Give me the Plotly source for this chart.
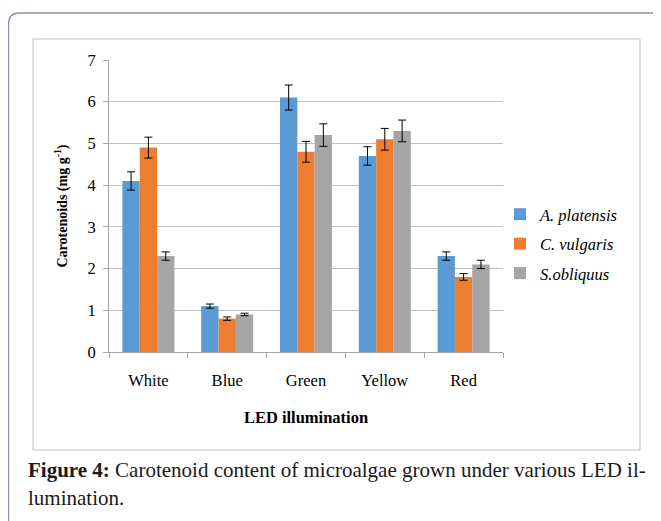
import plotly.graph_objects as go

categories = ["White", "Blue", "Green", "Yellow", "Red"]
series_names = ["<i>A. platensis</i>", "<i>C. vulgaris</i>", "<i>S.obliquus</i>"]
a_platensis = [4.1, 1.1, 6.1, 4.7, 2.3]
a_platensis_err = [0.22, 0.05, 0.3, 0.22, 0.1]
c_vulgaris = [4.9, 0.8, 4.8, 5.1, 1.8]
c_vulgaris_err = [0.25, 0.04, 0.25, 0.26, 0.08]
s_obliquus = [2.3, 0.9, 5.2, 5.3, 2.1]
s_obliquus_err = [0.1, 0.03, 0.27, 0.26, 0.1]
colors = ["#5b9bd5", "#ed7d31", "#a5a5a5"]

OFF = 8  # page body margin
W, H = 661 - OFF, 521 - OFF
L, R, T, B = 109 - OFF, 503 - OFF, 60 - OFF, 352 - OFF  # plot area in figure pixels

def px(x):
    return (x - OFF - L) / (R - L)

def py(y):
    return (B - (y - OFF)) / (B - T)

SERIF = "Liberation Serif, Times New Roman, serif"

fig = go.Figure()
for i, (name, vals, errs) in enumerate(zip(series_names,
                                           [a_platensis, c_vulgaris, s_obliquus],
                                           [a_platensis_err, c_vulgaris_err, s_obliquus_err])):
    fig.add_trace(go.Bar(
        x=categories, y=vals, name=name,
        marker=dict(color=colors[i], line=dict(width=0)),
        error_y=dict(type="data", array=errs, color="black", thickness=1, width=4),
        legendgroup=f"g{i}",
    ))

fig.update_layout(
    width=W, height=H,
    margin=dict(l=L, r=W - R, t=T, b=H - B),
    paper_bgcolor="white", plot_bgcolor="white",
    barmode="group", bargap=0.34, bargroupgap=0,
    font=dict(family=SERIF, size=14, color="black"),
    legend=dict(x=px(500), y=py(244), xanchor="left", yanchor="middle",
                font=dict(family=SERIF, size=16.5, color="black"),
                tracegroupgap=5, bgcolor="rgba(0,0,0,0)"),
    xaxis=dict(
        type="category", showline=True, linecolor="#a6a6a6", linewidth=1,
        ticks="outside", tickson="boundaries", ticklen=5, tickcolor="#a6a6a6",
        showgrid=False, ticklabelstandoff=13,
        tickfont=dict(family=SERIF, size=16.5),
        title=dict(text="<b>LED illumination</b>", font=dict(family=SERIF, size=16.5), standoff=22),
    ),
    yaxis=dict(
        range=[0, 7], dtick=1, showline=True, linecolor="#a6a6a6", linewidth=1,
        ticks="outside", ticklen=5, tickcolor="#a6a6a6",
        showgrid=True, gridcolor="#bfbfbf", gridwidth=1, zeroline=False,
        tickfont=dict(family=SERIF, size=16.5), ticklabelstandoff=4,
        title=dict(text="<b>Carotenoids (mg g<sup>-1</sup>)</b>", font=dict(family=SERIF, size=14), standoff=16),
    ),
    shapes=[
        # outer frame with rounded corner
        dict(type="path", xref="paper", yref="paper", layer="below",
             path=f"M {px(8.5)} {py(530)} L {px(8.5)} {py(24)} Q {px(8.5)} {py(13)} {px(19)} {py(13)} L {px(670)} {py(13)}",
             line=dict(color="#8c8cbf", width=1.5)),
        # inner chart box
        dict(type="rect", xref="paper", yref="paper", layer="below",
             x0=px(33), x1=px(640), y0=py(450), y1=py(39),
             line=dict(color="#bfbfbf", width=1), fillcolor="rgba(0,0,0,0)"),
    ],
    annotations=[
        dict(xref="paper", yref="paper", x=px(26), y=py(470), xanchor="left", yanchor="middle",
             showarrow=False, align="left",
             text="<b>Figure 4:</b> Carotenoid content of microalgae grown under various LED il-",
             font=dict(family=SERIF, size=21, color="#1a1a1a")),
        dict(xref="paper", yref="paper", x=px(26), y=py(498), xanchor="left", yanchor="middle",
             showarrow=False, align="left", text="lumination.",
             font=dict(family=SERIF, size=21, color="#1a1a1a")),
    ],
)

fig.write_html("out.html")
